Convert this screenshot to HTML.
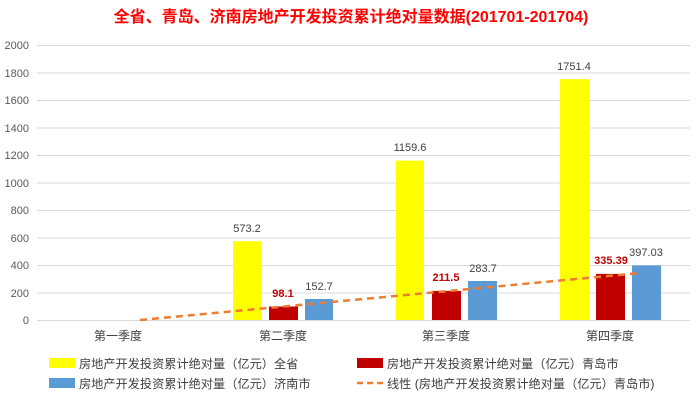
<!DOCTYPE html>
<html><head><meta charset="utf-8"><style>
body{margin:0;background:#fff;}
svg text{font-family:"Liberation Sans","Noto Sans CJK SC",sans-serif;}
</style></head><body>
<svg width="700" height="400" xmlns="http://www.w3.org/2000/svg">
<rect width="700" height="400" fill="#fff"/>
<text x="351" y="22" text-anchor="middle" font-size="16" font-weight="bold" fill="#ff0000">全省、青岛、济南房地产开发投资累计绝对量数据(201701-201704)</text>
<g stroke="#d9d9d9" stroke-width="1">
<line x1="37" x2="690" y1="45.5" y2="45.5"/><line x1="37" x2="690" y1="73" y2="73"/>
<line x1="37" x2="690" y1="100.5" y2="100.5"/><line x1="37" x2="690" y1="128" y2="128"/>
<line x1="37" x2="690" y1="155.5" y2="155.5"/><line x1="37" x2="690" y1="183" y2="183"/>
<line x1="37" x2="690" y1="210.5" y2="210.5"/><line x1="37" x2="690" y1="238" y2="238"/>
<line x1="37" x2="690" y1="265.5" y2="265.5"/><line x1="37" x2="690" y1="293" y2="293"/>
<line x1="37" x2="690" y1="320.5" y2="320.5"/>
</g>
<g font-size="11" fill="#595959" text-anchor="end">
<text x="29" y="49">2000</text><text x="29" y="77">1800</text><text x="29" y="104">1600</text>
<text x="29" y="132">1400</text><text x="29" y="159">1200</text><text x="29" y="187">1000</text>
<text x="29" y="214">800</text><text x="29" y="242">600</text><text x="29" y="269">400</text>
<text x="29" y="297">200</text><text x="29" y="324">0</text>
</g>
<rect x="233" y="241.2" width="28" height="78.8" fill="#ffff00"/>
<rect x="269" y="306.5" width="29" height="13.5" fill="#c00000"/>
<rect x="305" y="299" width="28" height="21" fill="#5b9bd5"/>
<rect x="396" y="160.6" width="28" height="159.4" fill="#ffff00"/>
<rect x="432" y="290.9" width="29" height="29.1" fill="#c00000"/>
<rect x="468" y="281" width="29" height="39" fill="#5b9bd5"/>
<rect x="560" y="79.2" width="29" height="240.8" fill="#ffff00"/>
<rect x="596" y="273.9" width="29" height="46.1" fill="#c00000"/>
<rect x="632" y="265.4" width="29" height="54.6" fill="#5b9bd5"/>
<line x1="140" y1="320" x2="640" y2="273" stroke="#ed7d31" stroke-width="2.5" stroke-dasharray="7,5"/>
<g font-size="11" fill="#404040" text-anchor="middle">
<text x="247" y="232">573.2</text><text x="319" y="290">152.7</text>
<text x="410" y="151">1159.6</text><text x="483" y="272">283.7</text>
<text x="574" y="70">1751.4</text><text x="646" y="256">397.03</text>
</g>
<g font-size="11" fill="#c00000" font-weight="bold" text-anchor="middle">
<text x="283" y="297">98.1</text><text x="446" y="281">211.5</text><text x="611" y="264">335.39</text>
</g>
<g font-size="12" fill="#404040" text-anchor="middle">
<text x="118" y="340">第一季度</text><text x="283" y="340">第二季度</text>
<text x="446" y="340">第三季度</text><text x="610" y="340">第四季度</text>
</g>
<rect x="49" y="358" width="26" height="10" fill="#ffff00"/>
<rect x="357" y="358" width="26" height="10" fill="#c00000"/>
<rect x="49" y="378" width="26" height="10" fill="#5b9bd5"/>
<line x1="357" y1="383" x2="383" y2="383" stroke="#ed7d31" stroke-width="2.5" stroke-dasharray="6,4"/>
<g font-size="12.2" fill="#404040">
<text x="79" y="368">房地产开发投资累计绝对量（亿元）全省</text>
<text x="387" y="368">房地产开发投资累计绝对量（亿元）青岛市</text>
<text x="79" y="388">房地产开发投资累计绝对量（亿元）济南市</text>
<text x="387" y="388">线性 (房地产开发投资累计绝对量（亿元）青岛市)</text>
</g>
</svg>
</body></html>
